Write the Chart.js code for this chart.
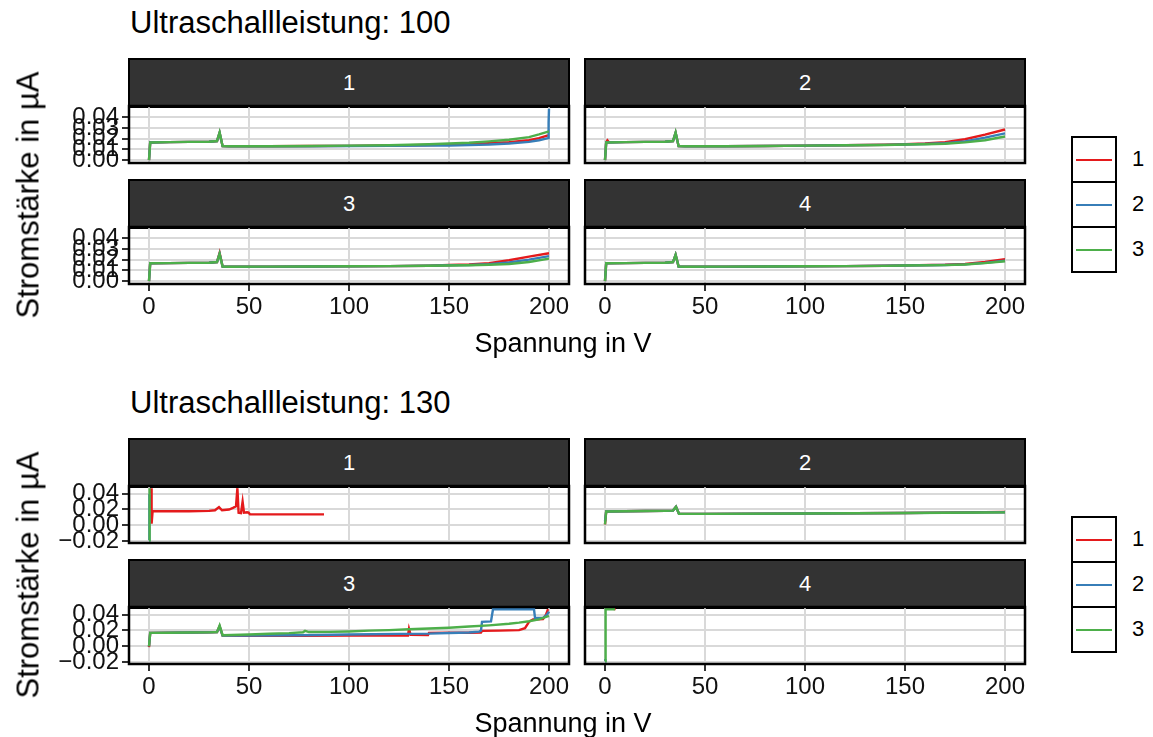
<!DOCTYPE html>
<html>
<head>
<meta charset="utf-8">
<script src="https://cdn.jsdelivr.net/npm/chart.js@4.4.1/dist/chart.umd.min.js"></script>
<style>
  body { margin: 0; background: #fff; font-family: 'Liberation Sans', Arial, sans-serif; }
  #wrap { position: relative; width: 1153px; height: 737px; overflow: hidden; background: #fff; }
  .abs { position: absolute; white-space: nowrap; line-height: 1; color: #000; }
  .strip { position: absolute; background: #333; border: 2px solid #000; box-sizing: border-box;
           color: #fff; font-size: 22px; display: flex; align-items: center; justify-content: center; }
  .key { position: absolute; border: 2px solid #000; box-sizing: border-box; background: #fff; }
  canvas { position: absolute; }
</style>
</head>
<body>
<div id="wrap"></div>
<script>
const facets = ['1', '2', '3', '4'];
const seriesNames = ['1', '2', '3'];
const seriesColors = ['#E41A1C', '#377EB8', '#4DAF4A'];
const xTicks = [0, 50, 100, 150, 200];
const yTicks100 = [0, 0.01, 0.02, 0.03, 0.04];
const yTicks130 = [-0.02, 0, 0.02, 0.04];

// Ultraschallleistung 100 — [Spannung, Strom] per Messreihe
const p100f1s1 = [[0,0],[0.6,0.0165],[10,0.0168],[20,0.017],[30,0.0172],[34,0.0178],[35.3,0.0255],[36.8,0.013],[40,0.0128],[60,0.0129],[80,0.0131],[100,0.0133],[120,0.0136],[140,0.0141],[150,0.0146],[160,0.015],[170,0.0158],[180,0.0168],[190,0.0185],[195,0.0205],[199.5,0.023]];
const p100f1s2 = [[0,0],[0.6,0.0165],[10,0.0168],[20,0.017],[30,0.0172],[34,0.0178],[35.3,0.0255],[36.8,0.013],[40,0.0128],[60,0.0128],[80,0.013],[100,0.0131],[120,0.0133],[140,0.0135],[150,0.0137],[160,0.014],[170,0.0145],[180,0.0155],[190,0.017],[195,0.0185],[199.5,0.0205],[199.8,0.035],[200,0.048]];
const p100f1s3 = [[0,0],[0.6,0.0165],[10,0.0168],[20,0.017],[30,0.0172],[34,0.0178],[35.3,0.026],[36.8,0.013],[40,0.0129],[60,0.013],[80,0.0132],[100,0.0135],[120,0.0139],[140,0.0148],[150,0.0155],[160,0.0162],[170,0.0175],[180,0.019],[190,0.0215],[195,0.024],[200,0.0268]];

const p100f2s1 = [[0,0],[0.6,0.0165],[1.2,0.0185],[2,0.0166],[10,0.0168],[20,0.017],[30,0.0172],[34,0.0178],[35.3,0.0255],[36.8,0.013],[40,0.0129],[60,0.013],[80,0.0132],[100,0.0135],[120,0.0138],[140,0.0143],[150,0.0148],[160,0.0155],[170,0.0168],[180,0.0195],[190,0.0238],[200,0.0286]];
const p100f2s2 = [[0,0],[0.6,0.0165],[10,0.0168],[20,0.017],[30,0.0172],[34,0.0178],[35.3,0.0255],[36.8,0.013],[40,0.0129],[60,0.013],[80,0.0132],[100,0.0135],[120,0.0138],[140,0.0142],[150,0.0146],[160,0.015],[170,0.0158],[180,0.0175],[190,0.021],[200,0.025]];
const p100f2s3 = [[0,0],[0.6,0.0165],[10,0.0168],[20,0.017],[30,0.0172],[34,0.0178],[35.3,0.026],[36.8,0.013],[40,0.0129],[60,0.013],[80,0.0132],[100,0.0135],[120,0.0138],[140,0.0141],[150,0.0145],[160,0.0148],[170,0.0153],[180,0.0165],[190,0.0185],[200,0.022]];

const p100f3s1 = [[0,0],[0.6,0.0167],[10,0.0168],[20,0.017],[30,0.0172],[34,0.0178],[35.3,0.0264],[36.8,0.0136],[40,0.0134],[60,0.0135],[80,0.0136],[100,0.0138],[120,0.014],[140,0.0144],[150,0.015],[160,0.0155],[170,0.0168],[180,0.0195],[190,0.0228],[200,0.026]];
const p100f3s2 = [[0,0],[0.6,0.0167],[10,0.0168],[20,0.017],[30,0.0172],[34,0.0178],[35.3,0.0255],[36.8,0.0136],[40,0.0134],[60,0.0135],[80,0.0136],[100,0.0138],[120,0.014],[140,0.0144],[150,0.0148],[160,0.015],[170,0.0158],[180,0.0175],[190,0.02],[200,0.0233]];
const p100f3s3 = [[0,0],[0.6,0.0167],[10,0.0168],[20,0.017],[30,0.0172],[34,0.0178],[35.3,0.0255],[36.8,0.0136],[40,0.0134],[60,0.0135],[80,0.0136],[100,0.0138],[120,0.014],[140,0.0143],[150,0.0146],[160,0.0148],[170,0.0152],[180,0.016],[190,0.0178],[200,0.021]];

const p100f4s1 = [[0,0],[0.6,0.0167],[10,0.0168],[20,0.017],[30,0.0172],[34,0.0178],[35.3,0.0245],[36.8,0.0136],[40,0.0134],[60,0.0135],[80,0.0136],[100,0.0138],[120,0.014],[140,0.0143],[150,0.0147],[170,0.0152],[180,0.016],[190,0.0178],[200,0.0205]];
const p100f4s2 = [[0,0],[0.6,0.0167],[10,0.0168],[20,0.017],[30,0.0172],[34,0.0178],[35.3,0.0245],[36.8,0.0136],[40,0.0134],[60,0.0135],[80,0.0136],[100,0.0138],[120,0.014],[140,0.0143],[150,0.0146],[170,0.015],[180,0.0156],[190,0.017],[200,0.019]];
const p100f4s3 = [[0,0],[0.6,0.0167],[10,0.0168],[20,0.017],[30,0.0172],[34,0.0178],[35.3,0.0245],[36.8,0.0136],[40,0.0134],[60,0.0135],[80,0.0136],[100,0.0138],[120,0.014],[140,0.0142],[150,0.0145],[170,0.0149],[180,0.0155],[190,0.0168],[200,0.0185]];

// Ultraschallleistung 130
const p130f1s1 = [[1,0.047],[1.3,0.002],[1.8,0.018],[10,0.0178],[20,0.0178],[30,0.0182],[33,0.019],[35,0.023],[36.5,0.019],[40,0.02],[42,0.022],[43.5,0.024],[44.2,0.047],[44.8,0.016],[46,0.0155],[46.8,0.03],[47.5,0.016],[49,0.0165],[49.8,0.016],[50.5,0.014],[60,0.0138],[70,0.0138],[80,0.0138],[87.5,0.0138]];
const p130f1s2 = [[0,-0.019],[0.2,0.04]];
const p130f1s3 = [[0,-0.019],[0.3,0.047]];

const p130f2s1 = [[0,0.001],[0.6,0.0175],[10,0.0178],[20,0.018],[30,0.0182],[34,0.0186],[35.5,0.0235],[37,0.0145],[50,0.0145],[100,0.015],[150,0.0156],[190,0.0166],[200,0.0168]];
const p130f2s2 = [[0,0.005],[0.6,0.0175],[10,0.0178],[20,0.018],[30,0.0182],[34,0.0186],[35.5,0.0235],[37,0.0145],[50,0.0145],[100,0.015],[150,0.0155],[190,0.0163],[200,0.0165]];
const p130f2s3 = [[0,0.001],[0.6,0.0175],[10,0.0178],[20,0.018],[30,0.0182],[34,0.0186],[35.5,0.0235],[37,0.0145],[50,0.0145],[100,0.015],[150,0.0155],[190,0.0162],[200,0.0163]];

const p130f3s1 = [[0,-0.001],[0.6,0.017],[10,0.0172],[20,0.0174],[30,0.0176],[34,0.018],[35.3,0.025],[36.8,0.0135],[50,0.0133],[75,0.0133],[100,0.0135],[120,0.0136],[129.5,0.0137],[130,0.022],[130.8,0.0145],[139.5,0.0143],[140,0.017],[150,0.0172],[160,0.0172],[166,0.0175],[166.5,0.0195],[175,0.0198],[185,0.0205],[188,0.023],[190,0.031],[192,0.034],[197,0.0345],[198.5,0.04],[199.5,0.047]];
const p130f3s2 = [[0,0],[0.6,0.017],[10,0.0172],[20,0.0174],[30,0.0176],[34,0.018],[35.3,0.025],[36.8,0.0135],[50,0.0136],[75,0.014],[100,0.015],[125,0.0157],[140,0.016],[150,0.0168],[160,0.0175],[165,0.0185],[166,0.02],[166.5,0.031],[171,0.0315],[172,0.047],[192.5,0.047],[193,0.036],[197,0.036],[199,0.04],[200,0.044]];
const p130f3s3 = [[0,0],[0.6,0.017],[10,0.0172],[20,0.0174],[30,0.0176],[34,0.018],[35.3,0.0265],[36.8,0.014],[50,0.015],[60,0.0158],[70,0.0166],[77,0.0178],[78,0.0195],[80,0.018],[90,0.0182],[100,0.0188],[110,0.0198],[120,0.0205],[130,0.0215],[140,0.0225],[150,0.0235],[160,0.025],[170,0.0265],[180,0.0285],[185,0.03],[190,0.0318],[195,0.034],[200,0.0385]];

const p130f4s1 = [[4.3,0.0472],[5.3,0.0472]];
const p130f4s2 = [[0,-0.019],[0.15,-0.016]];
const p130f4s3 = [[0,-0.019],[0.3,0.047],[5,0.047]];

const groups = [
  { title: 'Ultraschallleistung: 100', dy: 0, yMin: -0.0027, yMax: 0.0505, yTicks: yTicks100,
    panels: [[p100f1s1, p100f1s2, p100f1s3], [p100f2s1, p100f2s2, p100f2s3],
             [p100f3s1, p100f3s2, p100f3s3], [p100f4s1, p100f4s2, p100f4s3]] },
  { title: 'Ultraschallleistung: 130', dy: 380, yMin: -0.0225, yMax: 0.0498, yTicks: yTicks130,
    panels: [[p130f1s1, p130f1s2, p130f1s3], [p130f2s1, p130f2s2, p130f2s3],
             [p130f3s1, p130f3s2, p130f3s3], [p130f4s1, p130f4s2, p130f4s3]] }
];

const wrap = document.getElementById('wrap');
const FONT = "'Liberation Sans', Arial, sans-serif";
const TICK_SIZE = 24;

function addText(txt, x, y, size, extra) {
  const d = document.createElement('div');
  d.className = 'abs';
  d.textContent = txt;
  d.style.fontSize = size + 'px';
  d.style.left = x + 'px';
  d.style.top = y + 'px';
  if (extra) Object.assign(d.style, extra);
  wrap.appendChild(d);
  return d;
}

const fmt = v => (v < 0 ? '\u2212' : '') + Math.abs(v).toFixed(2);

// black frame around each panel
const panelBorder = {
  id: 'panelBorder',
  afterDraw(chart) {
    const a = chart.chartArea, c = chart.ctx;
    c.save();
    c.strokeStyle = '#000';
    c.lineWidth = 2.5;
    c.strokeRect(a.left, a.top, a.right - a.left, a.bottom - a.top);
    c.restore();
  }
};

// fixed axis sizes so every panel gets the same plotting area
const fixSize = (sc, w, h) => {
  if (w !== null) sc.width = w;
  if (h !== null) sc.height = h;
  sc.paddingTop = sc.paddingBottom = sc.paddingLeft = sc.paddingRight = 0;
};

const PW = 440, PH = 57, PAD_TOP = 10;

function drawPanel(g, idx) {
  const col = idx % 2, row = Math.floor(idx / 2);
  const left = col ? 585 : 129;
  const top = (row ? 227 : 106) + g.dy;
  const stripTop = (row ? 179 : 58) + g.dy;
  const yw = col ? 3 : 89;
  const xh = row ? 45 : 14;   // room below for the lowest y label

  const s = document.createElement('div');
  s.className = 'strip';
  s.textContent = facets[idx];
  Object.assign(s.style, { left: (left - 1) + 'px', top: stripTop + 'px',
    width: (PW + 2) + 'px', height: (top - stripTop + 2) + 'px' });
  wrap.appendChild(s);

  const cv = document.createElement('canvas');
  const cw = yw + PW + 3, ch = PAD_TOP + PH + xh;
  cv.width = cw; cv.height = ch;
  Object.assign(cv.style, { left: (left - yw) + 'px', top: (top - PAD_TOP) + 'px',
    width: cw + 'px', height: ch + 'px' });
  wrap.appendChild(cv);

  const datasets = g.panels[idx].map((pts, i) => ({
    label: seriesNames[i],
    data: pts.map(([x, y]) => ({ x, y })),
    borderColor: seriesColors[i],
    borderWidth: 2.4,
    pointRadius: 0,
    tension: 0,
    fill: false,
    order: 3 - i
  }));

  new Chart(cv, {
    type: 'line',
    data: { datasets },
    options: {
      animation: false,
      responsive: false,
      devicePixelRatio: 1,
      layout: { padding: { top: PAD_TOP, right: 3, left: 0, bottom: 0 } },
      plugins: { legend: { display: false }, tooltip: { enabled: false } },
      scales: {
        x: {
          type: 'linear', min: -10, max: 210,
          afterBuildTicks: sc => { sc.ticks = xTicks.map(v => ({ value: v })); },
          afterFit: sc => fixSize(sc, null, xh),
          border: { display: false },
          grid: { color: '#D9D9D9', lineWidth: 2, drawTicks: row === 1, tickLength: 7,
                  tickColor: '#333', tickWidth: 2 },
          ticks: { display: row === 1, autoSkip: false, maxRotation: 0, padding: 2,
                   color: '#111', font: { family: FONT, size: TICK_SIZE } }
        },
        y: {
          type: 'linear', min: g.yMin, max: g.yMax,
          afterBuildTicks: sc => { sc.ticks = g.yTicks.map(v => ({ value: v })); },
          afterFit: sc => fixSize(sc, yw, null),
          border: { display: false },
          grid: { color: '#D9D9D9', lineWidth: 2, drawTicks: col === 0, tickLength: 7,
                  tickColor: '#333', tickWidth: 2 },
          ticks: { display: col === 0, autoSkip: false, padding: 3, callback: fmt,
                   color: '#111', font: { family: FONT, size: TICK_SIZE } }
        }
      }
    },
    plugins: [panelBorder]
  });
}

function drawLegend(dy) {
  seriesNames.forEach((name, i) => {
    const k = document.createElement('div');
    k.className = 'key';
    Object.assign(k.style, { left: '1071px', top: (136 + dy + i * 45) + 'px', width: '46px', height: '47px' });
    const ln = document.createElement('div');
    Object.assign(ln.style, { position: 'absolute', left: '3px', top: '20.5px', width: '36px', height: '2.6px',
      background: seriesColors[i] });
    k.appendChild(ln);
    wrap.appendChild(k);
    addText(name, 1132, 159 + dy + i * 45 - 11, 22);
  });
}

groups.forEach(g => {
  addText(g.title, 130, 22 + g.dy - 15, 31);
  g.panels.forEach((_, i) => drawPanel(g, i));
  addText('Stromstärke in µA', 28, 195 + g.dy, 31, { transform: 'translate(-50%,-50%) rotate(-90deg)' });
  addText('Spannung in V', 563, 343 + g.dy, 27, { transform: 'translate(-50%,-50%)' });
  drawLegend(g.dy);
});
</script>
</body>
</html>
